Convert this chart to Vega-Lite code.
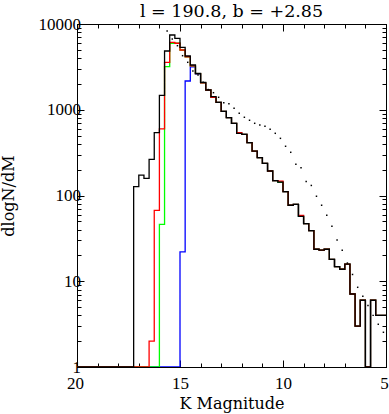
{
  "$schema": "https://vega.github.io/schema/vega-lite/v6.json",
  "width": 309,
  "height": 343,
  "autosize": {"type": "none"},
  "padding": {"left": 77, "top": 24, "right": 3, "bottom": 47},
  "background": "white",
  "title": {"text": "l = 190.8, b = +2.85", "font": "DejaVu Serif", "fontSize": 17.5, "fontWeight": "normal", "color": "black", "anchor": "middle", "offset": 0, "dy": 19, "baseline": "alphabetic"},
  "config": {
    "view": {"stroke": "black", "strokeWidth": 1},
    "axis": {"grid": false, "domain": true, "domainColor": "black", "tickColor": "black", "tickWidth": 1, "labelColor": "black", "titleColor": "black", "labelFont": "Liberation Serif", "labelFontSize": 17, "titleFont": "DejaVu Serif", "titleFontSize": 16, "titleFontWeight": "normal", "labelOverlap": false, "labelFlush": false}
  },
  "datasets": {
    "hist": [
      {"s": "black", "k": 5.0, "v": 4}, {"s": "black", "k": 5.25, "v": 4}, {"s": "black", "k": 5.5, "v": 6}, {"s": "black", "k": 5.75, "v": 1},
      {"s": "black", "k": 6.0, "v": 6}, {"s": "black", "k": 6.25, "v": 3}, {"s": "black", "k": 6.5, "v": 7.1}, {"s": "black", "k": 6.75, "v": 15.8},
      {"s": "black", "k": 7.0, "v": 13.8}, {"s": "black", "k": 7.25, "v": 14.8}, {"s": "black", "k": 7.5, "v": 18}, {"s": "black", "k": 7.75, "v": 23.6},
      {"s": "black", "k": 8.0, "v": 23.1}, {"s": "black", "k": 8.25, "v": 23.6}, {"s": "black", "k": 8.5, "v": 39}, {"s": "black", "k": 8.75, "v": 47},
      {"s": "black", "k": 9.0, "v": 57}, {"s": "black", "k": 9.25, "v": 79}, {"s": "black", "k": 9.5, "v": 77}, {"s": "black", "k": 9.75, "v": 111},
      {"s": "black", "k": 10.0, "v": 143}, {"s": "black", "k": 10.25, "v": 149}, {"s": "black", "k": 10.5, "v": 193}, {"s": "black", "k": 10.75, "v": 237},
      {"s": "black", "k": 11.0, "v": 276}, {"s": "black", "k": 11.25, "v": 330}, {"s": "black", "k": 11.5, "v": 413}, {"s": "black", "k": 11.75, "v": 517},
      {"s": "black", "k": 12.0, "v": 531}, {"s": "black", "k": 12.25, "v": 695}, {"s": "black", "k": 12.5, "v": 808}, {"s": "black", "k": 12.75, "v": 959},
      {"s": "black", "k": 13.0, "v": 1222}, {"s": "black", "k": 13.25, "v": 1420}, {"s": "black", "k": 13.5, "v": 1700}, {"s": "black", "k": 13.75, "v": 2090},
      {"s": "black", "k": 14.0, "v": 2661}, {"s": "black", "k": 14.25, "v": 3326}, {"s": "black", "k": 14.5, "v": 4235}, {"s": "black", "k": 14.75, "v": 5350},
      {"s": "black", "k": 15.0, "v": 6810}, {"s": "black", "k": 15.25, "v": 7447}, {"s": "black", "k": 15.5, "v": 4843}, {"s": "black", "k": 15.75, "v": 1473},
      {"s": "black", "k": 16.0, "v": 540}, {"s": "black", "k": 16.25, "v": 264}, {"s": "black", "k": 16.5, "v": 158}, {"s": "black", "k": 16.75, "v": 173},
      {"s": "black", "k": 17.0, "v": 127}, {"s": "black", "k": 17.25, "v": 1}, {"s": "black", "k": 20.0, "v": 1},

      {"s": "red", "k": 5.0, "v": 4}, {"s": "red", "k": 5.25, "v": 4}, {"s": "red", "k": 5.5, "v": 6}, {"s": "red", "k": 5.75, "v": 1},
      {"s": "red", "k": 6.0, "v": 6}, {"s": "red", "k": 6.25, "v": 3}, {"s": "red", "k": 6.5, "v": 7.1}, {"s": "red", "k": 6.75, "v": 15.8},
      {"s": "red", "k": 7.0, "v": 13.8}, {"s": "red", "k": 7.25, "v": 14.8}, {"s": "red", "k": 7.5, "v": 18}, {"s": "red", "k": 7.75, "v": 23.6},
      {"s": "red", "k": 8.0, "v": 23.1}, {"s": "red", "k": 8.25, "v": 23.6}, {"s": "red", "k": 8.5, "v": 39}, {"s": "red", "k": 8.75, "v": 47},
      {"s": "red", "k": 9.0, "v": 58.5}, {"s": "red", "k": 9.25, "v": 79}, {"s": "red", "k": 9.5, "v": 77}, {"s": "red", "k": 9.75, "v": 111},
      {"s": "red", "k": 10.0, "v": 147}, {"s": "red", "k": 10.25, "v": 149}, {"s": "red", "k": 10.5, "v": 193}, {"s": "red", "k": 10.75, "v": 237},
      {"s": "red", "k": 11.0, "v": 276}, {"s": "red", "k": 11.25, "v": 330}, {"s": "red", "k": 11.5, "v": 413}, {"s": "red", "k": 11.75, "v": 517},
      {"s": "red", "k": 12.0, "v": 542}, {"s": "red", "k": 12.25, "v": 695}, {"s": "red", "k": 12.5, "v": 808}, {"s": "red", "k": 12.75, "v": 959},
      {"s": "red", "k": 13.0, "v": 1222}, {"s": "red", "k": 13.25, "v": 1395}, {"s": "red", "k": 13.5, "v": 1700}, {"s": "red", "k": 13.75, "v": 2060},
      {"s": "red", "k": 14.0, "v": 2640}, {"s": "red", "k": 14.25, "v": 3240}, {"s": "red", "k": 14.5, "v": 4150}, {"s": "red", "k": 14.75, "v": 4975},
      {"s": "red", "k": 15.0, "v": 5960}, {"s": "red", "k": 15.25, "v": 6115}, {"s": "red", "k": 15.5, "v": 3575}, {"s": "red", "k": 15.75, "v": 597},
      {"s": "red", "k": 16.0, "v": 67}, {"s": "red", "k": 16.25, "v": 2}, {"s": "red", "k": 16.5, "v": 1}, {"s": "red", "k": 20.0, "v": 1},

      {"s": "green", "k": 5.0, "v": 4}, {"s": "green", "k": 5.25, "v": 4}, {"s": "green", "k": 5.5, "v": 6}, {"s": "green", "k": 5.75, "v": 1},
      {"s": "green", "k": 6.0, "v": 6}, {"s": "green", "k": 6.25, "v": 3}, {"s": "green", "k": 6.5, "v": 7.1}, {"s": "green", "k": 6.75, "v": 15.8},
      {"s": "green", "k": 7.0, "v": 13.8}, {"s": "green", "k": 7.25, "v": 14.8}, {"s": "green", "k": 7.5, "v": 18}, {"s": "green", "k": 7.75, "v": 23.6},
      {"s": "green", "k": 8.0, "v": 23.1}, {"s": "green", "k": 8.25, "v": 23.6}, {"s": "green", "k": 8.5, "v": 39}, {"s": "green", "k": 8.75, "v": 47},
      {"s": "green", "k": 9.0, "v": 57}, {"s": "green", "k": 9.25, "v": 79}, {"s": "green", "k": 9.5, "v": 77}, {"s": "green", "k": 9.75, "v": 111},
      {"s": "green", "k": 10.0, "v": 143}, {"s": "green", "k": 10.25, "v": 149}, {"s": "green", "k": 10.5, "v": 193}, {"s": "green", "k": 10.75, "v": 237},
      {"s": "green", "k": 11.0, "v": 276}, {"s": "green", "k": 11.25, "v": 330}, {"s": "green", "k": 11.5, "v": 413}, {"s": "green", "k": 11.75, "v": 517},
      {"s": "green", "k": 12.0, "v": 531}, {"s": "green", "k": 12.25, "v": 695}, {"s": "green", "k": 12.5, "v": 808}, {"s": "green", "k": 12.75, "v": 959},
      {"s": "green", "k": 13.0, "v": 1222}, {"s": "green", "k": 13.25, "v": 1395}, {"s": "green", "k": 13.5, "v": 1700}, {"s": "green", "k": 13.75, "v": 2060},
      {"s": "green", "k": 14.0, "v": 2640}, {"s": "green", "k": 14.25, "v": 3240}, {"s": "green", "k": 14.5, "v": 4150}, {"s": "green", "k": 14.75, "v": 4975},
      {"s": "green", "k": 15.0, "v": 5960}, {"s": "green", "k": 15.25, "v": 5960}, {"s": "green", "k": 15.5, "v": 3177}, {"s": "green", "k": 15.75, "v": 46},
      {"s": "green", "k": 16.0, "v": 1}, {"s": "green", "k": 20.0, "v": 1},

      {"s": "blue", "k": 5.0, "v": 4}, {"s": "blue", "k": 5.25, "v": 4}, {"s": "blue", "k": 5.5, "v": 6}, {"s": "blue", "k": 5.75, "v": 1},
      {"s": "blue", "k": 6.0, "v": 6}, {"s": "blue", "k": 6.25, "v": 3}, {"s": "blue", "k": 6.5, "v": 7.1}, {"s": "blue", "k": 6.75, "v": 15.8},
      {"s": "blue", "k": 7.0, "v": 13.8}, {"s": "blue", "k": 7.25, "v": 14.8}, {"s": "blue", "k": 7.5, "v": 18}, {"s": "blue", "k": 7.75, "v": 23.6},
      {"s": "blue", "k": 8.0, "v": 23.1}, {"s": "blue", "k": 8.25, "v": 23.6}, {"s": "blue", "k": 8.5, "v": 39}, {"s": "blue", "k": 8.75, "v": 47},
      {"s": "blue", "k": 9.0, "v": 57}, {"s": "blue", "k": 9.25, "v": 79}, {"s": "blue", "k": 9.5, "v": 77}, {"s": "blue", "k": 9.75, "v": 111},
      {"s": "blue", "k": 10.0, "v": 143}, {"s": "blue", "k": 10.25, "v": 149}, {"s": "blue", "k": 10.5, "v": 193}, {"s": "blue", "k": 10.75, "v": 237},
      {"s": "blue", "k": 11.0, "v": 276}, {"s": "blue", "k": 11.25, "v": 330}, {"s": "blue", "k": 11.5, "v": 413}, {"s": "blue", "k": 11.75, "v": 517},
      {"s": "blue", "k": 12.0, "v": 531}, {"s": "blue", "k": 12.25, "v": 695}, {"s": "blue", "k": 12.5, "v": 808}, {"s": "blue", "k": 12.75, "v": 959},
      {"s": "blue", "k": 13.0, "v": 1222}, {"s": "blue", "k": 13.25, "v": 1395}, {"s": "blue", "k": 13.5, "v": 1700}, {"s": "blue", "k": 13.75, "v": 2060},
      {"s": "blue", "k": 14.0, "v": 2600}, {"s": "blue", "k": 14.25, "v": 3160}, {"s": "blue", "k": 14.5, "v": 2163}, {"s": "blue", "k": 14.75, "v": 22},
      {"s": "blue", "k": 15.0, "v": 1}, {"s": "blue", "k": 20.0, "v": 1}
    ],
    "model": [
      {"k": 15.625, "v": 8280}, {"k": 15.375, "v": 6680}, {"k": 15.125, "v": 5585}, {"k": 14.875, "v": 4270},
      {"k": 14.625, "v": 3575}, {"k": 14.375, "v": 2830}, {"k": 14.125, "v": 2540}, {"k": 13.875, "v": 2100},
      {"k": 13.625, "v": 1720}, {"k": 13.375, "v": 1581}, {"k": 13.125, "v": 1397}, {"k": 12.875, "v": 1208},
      {"k": 12.625, "v": 1177}, {"k": 12.375, "v": 1040}, {"k": 12.125, "v": 909}, {"k": 11.875, "v": 817},
      {"k": 11.625, "v": 754}, {"k": 11.375, "v": 695}, {"k": 11.125, "v": 664}, {"k": 10.875, "v": 641},
      {"k": 10.625, "v": 592}, {"k": 10.375, "v": 531}, {"k": 10.125, "v": 464}, {"k": 9.875, "v": 375},
      {"k": 9.625, "v": 319}, {"k": 9.375, "v": 231}, {"k": 9.125, "v": 211}, {"k": 8.875, "v": 146},
      {"k": 8.625, "v": 131}, {"k": 8.375, "v": 98}, {"k": 8.125, "v": 77}, {"k": 7.875, "v": 58.7},
      {"k": 7.625, "v": 43.7}, {"k": 7.375, "v": 30.3}, {"k": 7.125, "v": 23}, {"k": 6.875, "v": 16.3},
      {"k": 6.625, "v": 12}, {"k": 6.375, "v": 8.5}, {"k": 6.125, "v": 6.7}, {"k": 5.875, "v": 5.2},
      {"k": 5.625, "v": 4.0}, {"k": 5.375, "v": 3.15}, {"k": 5.125, "v": 2.54}
    ]
  },
  "layer": [
    {
      "data": {"name": "hist"},
      "transform": [{"filter": "datum.s === 'blue'"}],
      "mark": {"type": "line", "interpolate": "step-after", "color": "#0000ff", "strokeWidth": 1.3, "clip": true},
      "encoding": {
        "x": {"field": "k", "type": "quantitative", "scale": {"domain": [5, 20], "reverse": true, "nice": false, "zero": false},
          "axis": {"orient": "bottom", "values": [5,6,7,8,9,10,11,12,13,14,15,16,17,18,19,20], "labelExpr": "datum.value % 5 === 0 ? datum.label : ''",
            "tickSize": {"condition": {"test": "datum.value % 5 === 0", "value": -7}, "value": -4},
            "labelOffset": {"condition": {"test": "datum.value === 5 || datum.value === 20", "value": -2}, "value": 0},
            "labelPadding": 15, "labelAngle": 0, "title": "K Magnitude", "titleX": 154.5, "titleY": 41, "titleBaseline": "alphabetic", "titleAlign": "center"}},
        "y": {"field": "v", "type": "quantitative", "scale": {"type": "log", "domain": [1, 10000], "nice": false},
          "axis": {"orient": "left", "values": [1,2,3,4,5,6,7,8,9,10,20,30,40,50,60,70,80,90,100,200,300,400,500,600,700,800,900,1000,2000,3000,4000,5000,6000,7000,8000,9000,10000],
            "labelExpr": "indexof([1,10,100,1000,10000], datum.value) >= 0 ? format(datum.value, 'd') : ''",
            "tickSize": {"condition": {"test": "indexof([1,10,100,1000,10000], datum.value) >= 0", "value": -7}, "value": -4},
            "labelPadding": 3.5, "labelBaseline": "middle", "title": "dlogN/dM", "titleAngle": -90, "titleX": -63.5, "titleY": 171.5, "titleBaseline": "alphabetic", "titleAlign": "center"}},
        "order": {"field": "k", "sort": "ascending"}
      }
    },
    {
      "data": {"name": "hist"},
      "transform": [{"filter": "datum.s === 'green'"}],
      "mark": {"type": "line", "interpolate": "step-after", "color": "#00ff00", "strokeWidth": 1.3, "clip": true},
      "encoding": {
        "x": {"field": "k", "type": "quantitative", "scale": {"domain": [5, 20], "reverse": true, "nice": false, "zero": false},
          "axis": {"orient": "top", "values": [5,6,7,8,9,10,11,12,13,14,15,16,17,18,19,20], "labels": false, "title": null,
            "tickSize": {"condition": {"test": "datum.value % 5 === 0", "value": -7}, "value": -4}}},
        "y": {"field": "v", "type": "quantitative", "scale": {"type": "log", "domain": [1, 10000], "nice": false},
          "axis": {"orient": "right", "values": [1,2,3,4,5,6,7,8,9,10,20,30,40,50,60,70,80,90,100,200,300,400,500,600,700,800,900,1000,2000,3000,4000,5000,6000,7000,8000,9000,10000],
            "labels": false, "title": null,
            "tickSize": {"condition": {"test": "indexof([1,10,100,1000,10000], datum.value) >= 0", "value": -7}, "value": -4}}},
        "order": {"field": "k", "sort": "ascending"}
      }
    },
    {
      "data": {"name": "hist"},
      "transform": [{"filter": "datum.s === 'red'"}],
      "mark": {"type": "line", "interpolate": "step-after", "color": "#ff0000", "strokeWidth": 1.3, "clip": true},
      "encoding": {
        "x": {"field": "k", "type": "quantitative", "axis": null},
        "y": {"field": "v", "type": "quantitative", "axis": null},
        "order": {"field": "k", "sort": "ascending"}
      }
    },
    {
      "data": {"name": "hist"},
      "transform": [{"filter": "datum.s === 'black'"}],
      "mark": {"type": "line", "interpolate": "step-after", "color": "#000000", "strokeWidth": 1.3, "clip": true},
      "encoding": {
        "x": {"field": "k", "type": "quantitative", "axis": null},
        "y": {"field": "v", "type": "quantitative", "axis": null},
        "order": {"field": "k", "sort": "ascending"}
      }
    },
    {
      "data": {"name": "model"},
      "mark": {"type": "point", "shape": "square", "size": 2.2, "filled": true, "color": "#000000", "opacity": 1, "strokeWidth": 0, "clip": true},
      "encoding": {
        "x": {"field": "k", "type": "quantitative", "axis": null},
        "y": {"field": "v", "type": "quantitative", "axis": null}
      }
    }
  ],
  "resolve": {"axis": {"x": "independent", "y": "independent"}}
}
